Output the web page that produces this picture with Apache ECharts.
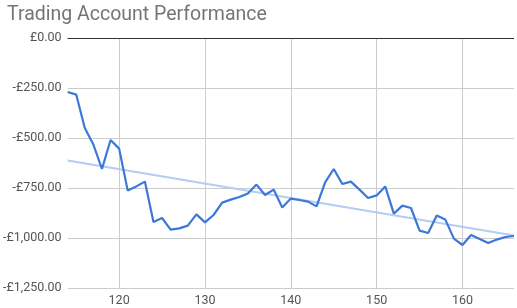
<!DOCTYPE html>
<html><head><meta charset="utf-8">
<script src="https://cdn.jsdelivr.net/npm/echarts@6/dist/echarts.min.js"></script>
<style>html,body{margin:0;padding:0;background:#fff}#c{width:517px;height:308px}</style>
</head><body><div id="c"></div>
<script>
const titleText = 'Trading Account Performance';
const days = [114,115,116,117,118,119,120,121,122,123,124,125,126,127,128,129,130,131,132,133,134,135,136,137,138,139,140,141,142,143,144,145,146,147,148,149,150,151,152,153,154,155,156,157,158,159,160,161,162,163,164,165,166];
const balance = [-270,-283,-450,-533,-655,-510,-553,-763,-742,-718,-920,-900,-958,-952,-938,-882,-922,-885,-823,-808,-795,-777,-733,-785,-758,-847,-803,-810,-818,-842,-722,-655,-730,-718,-758,-800,-787,-742,-878,-838,-850,-963,-975,-887,-908,-1003,-1035,-985,-1005,-1025,-1008,-995,-990];
const trendDays = [114,166];
const trendValues = [-613,-988];
const xTicks = [120,130,140,150,160];
const yMin = -1250, yMax = 0, yStep = 250;

const chart = echarts.init(document.getElementById('c'), null, {renderer:'canvas'});
chart.setOption({
  animation:false,
  title:{text:titleText,left:2,top:0,textStyle:{fontFamily:'Roboto',fontSize:19.5,fontWeight:'normal',color:'#757575'}},
  grid:{left:62,right:3,top:38,bottom:20,containLabel:false},
  xAxis:{type:'value',min:114,max:166,
    axisLine:{show:false},
    axisTick:{show:false,customValues:xTicks},
    axisLabel:{customValues:xTicks,margin:6,fontFamily:'Roboto',fontSize:12.5,color:'#555'},
    splitLine:{show:true,lineStyle:{color:'#cccccc',width:1}}},
  yAxis:{type:'value',min:yMin,max:yMax,interval:yStep,
    axisLine:{show:false},axisTick:{show:false},
    axisLabel:{margin:6,fontFamily:'Roboto',fontSize:12.5,color:'#555',
      formatter:v=>{const s=Math.abs(v).toLocaleString('en-GB',{minimumFractionDigits:2,maximumFractionDigits:2});return (v<0?'-':'')+'£'+s;}},
    splitLine:{show:true,lineStyle:{color:'#cccccc',width:1}}},
  series:[
    {type:'line',data:trendDays.map((d,i)=>[d,trendValues[i]]),symbol:'none',silent:true,
      lineStyle:{color:'#b3cdf3',width:2},z:2},
    {type:'line',data:days.map((d,i)=>[d,balance[i]]),symbol:'none',
      lineStyle:{color:'#3c78d8',width:2.2},z:3,
      markLine:{silent:true,symbol:'none',label:{show:false},
        lineStyle:{color:'#333333',width:1,type:'solid'},data:[{yAxis:0}]}}
  ]
});
</script></body></html>
